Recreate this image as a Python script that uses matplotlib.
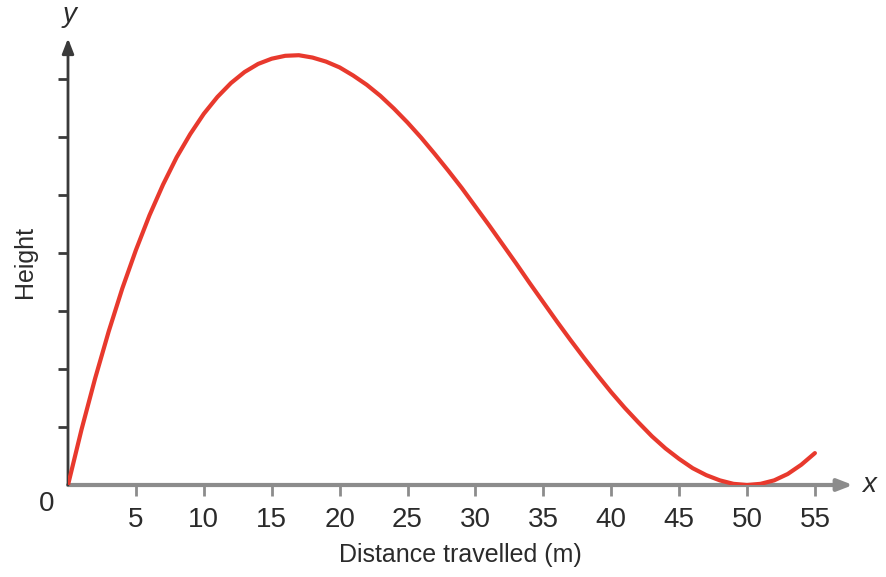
import matplotlib
matplotlib.use("Agg")
import matplotlib.pyplot as plt

# distance travelled (m) and height (in y-tick units)
distance = list(range(0, 56))
height = [
    0.00, 0.96, 1.84, 2.65, 3.39, 4.05, 4.65, 5.18, 5.65, 6.05,
    6.40, 6.69, 6.93, 7.12, 7.26, 7.35, 7.40, 7.41, 7.37, 7.30,
    7.20, 7.06, 6.90, 6.71, 6.49, 6.25, 5.99, 5.71, 5.42, 5.12,
    4.80, 4.48, 4.15, 3.82, 3.48, 3.15, 2.82, 2.50, 2.19, 1.89,
    1.60, 1.33, 1.08, 0.84, 0.63, 0.45, 0.29, 0.17, 0.08, 0.02,
    0.00, 0.02, 0.08, 0.19, 0.35, 0.55,
]
x_ticks = [5, 10, 15, 20, 25, 30, 35, 40, 45, 50, 55]
y_ticks = [1, 2, 3, 4, 5, 6, 7]

plt.rcParams["font.family"] = ["Liberation Sans", "DejaVu Sans"]
txt = "#2b2b2b"

fig = plt.figure(figsize=(8.87, 5.77), dpi=100)
ax = fig.add_axes([68 / 887, 92 / 577, 794 / 887, 455 / 577])
ax.set_xlim(0, 794 / 13.58)
ax.set_ylim(0, 455 / 58)

for s in ax.spines.values():
    s.set_visible(False)

# axes with arrow heads
ax.annotate("", xy=(57.8, 0), xytext=(0, 0), xycoords="data",
            arrowprops=dict(arrowstyle="-|>,head_length=0.9,head_width=0.35",
                            color="#8c8c8c", lw=3, shrinkA=0, shrinkB=0),
            annotation_clip=False)
ax.annotate("", xy=(0, 7.7), xytext=(0, 0), xycoords="data",
            arrowprops=dict(arrowstyle="-|>,head_length=0.9,head_width=0.35",
                            color="#3a3a3a", lw=2, shrinkA=0, shrinkB=0),
            annotation_clip=False)

ax.plot(distance, height, color="#e8392d", lw=3, solid_capstyle="round", zorder=3)

ax.set_xticks(x_ticks)
ax.set_xticklabels([str(t) for t in x_ticks])
ax.set_yticks(y_ticks)
ax.set_yticklabels([])
ax.tick_params(axis="x", direction="out", length=8, width=2, color="#8c8c8c",
               labelsize=20, labelcolor=txt, pad=8)
ax.tick_params(axis="y", direction="out", length=7, width=2, color="#3a3a3a")

ax.text(-1.6, -0.32, "0", fontsize=20, color=txt, ha="center", va="center")
ax.text(59.0, 0.0, "x", fontsize=20, color=txt, ha="center", va="center",
        style="italic")
ax.text(0.1, 8.1, "y", fontsize=20, color=txt, ha="center", va="center",
        style="italic", clip_on=False)

fig.text(460 / 887, 1 - 555 / 577, "Distance travelled (m)", fontsize=18,
         color=txt, ha="center", va="center")
fig.text(25 / 887, 1 - 262 / 577, "Height", fontsize=18, color=txt,
         ha="center", va="center", rotation=90)

fig.savefig("out.png", dpi=100)
